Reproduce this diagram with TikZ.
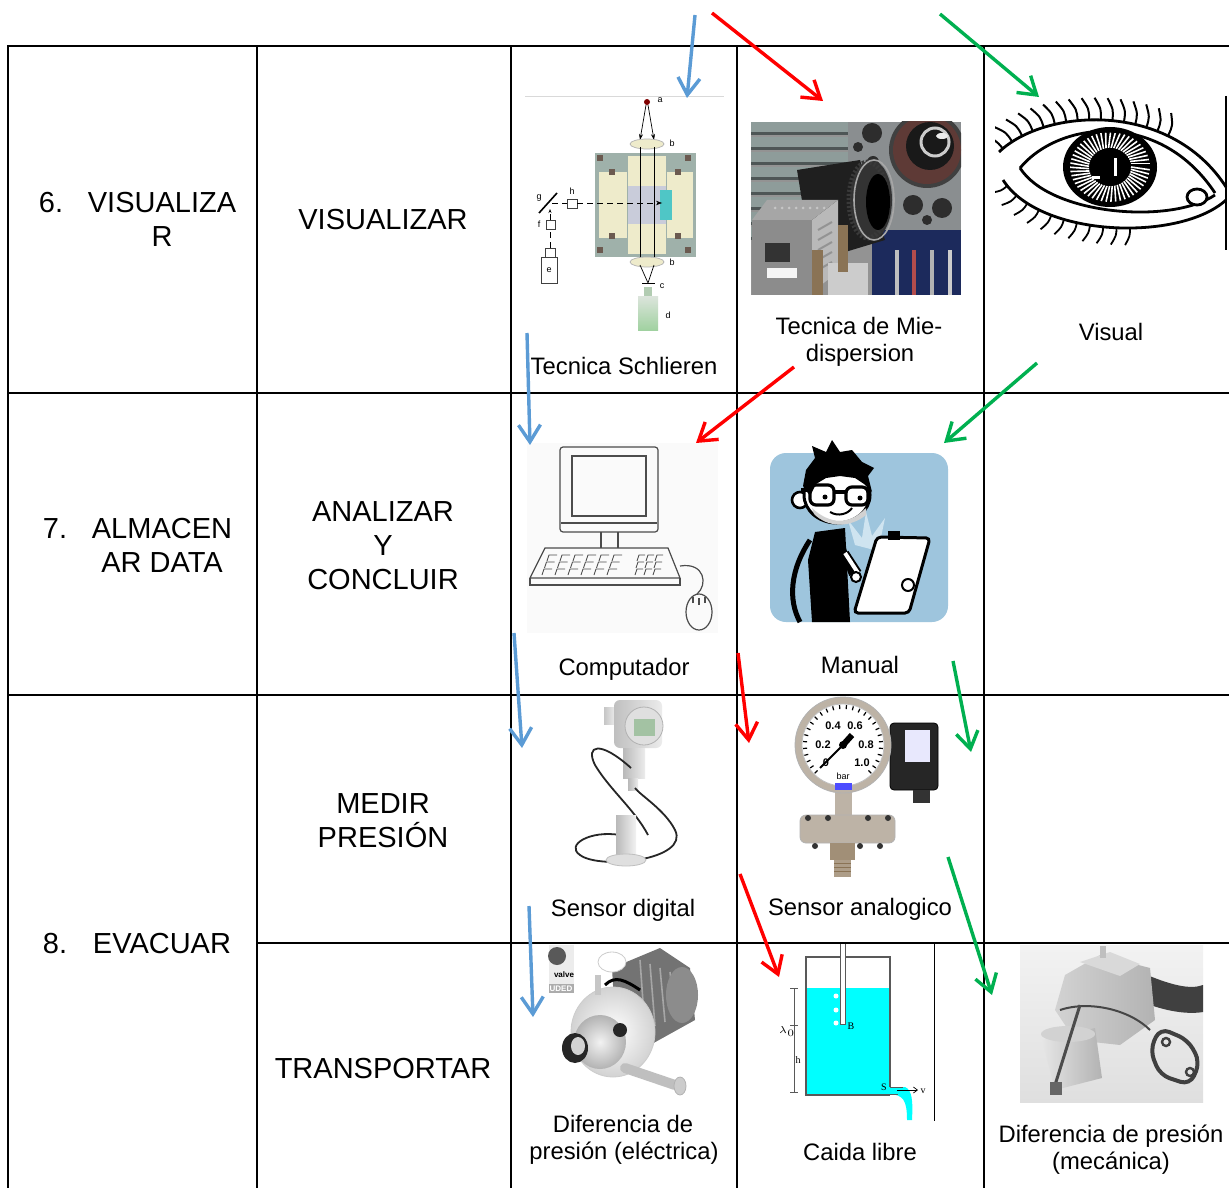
\documentclass[tikz,border=0pt]{standalone}
\usepackage{fontspec}
\setmainfont{Liberation Sans}
\newfontfamily\serifF{Liberation Serif}
\usetikzlibrary{arrows.meta,decorations.markings}
\definecolor{aBlue}{HTML}{5B9BD5}
\definecolor{aRed}{HTML}{FF0000}
\definecolor{aGreen}{HTML}{00B050}
\definecolor{sGray}{HTML}{9FB1AA}
\definecolor{sCream}{HTML}{EEEBCB}
\definecolor{sLav}{HTML}{C9CCDA}
\definecolor{sCyan}{HTML}{4FC6C6}
\definecolor{sBrown}{HTML}{6B5A50}
\definecolor{mBlue}{HTML}{9EC5DD}
\definecolor{mLight}{HTML}{CFE4F0}
\definecolor{water}{HTML}{00FFFF}
\definecolor{brass}{HTML}{8A7355}
\definecolor{navy}{HTML}{1C2A5C}
\definecolor{ringc}{HTML}{5E3A36}
\definecolor{plate}{HTML}{8A8E90}
\definecolor{steel}{HTML}{BDB3A6}
\definecolor{ribL}{HTML}{8E9C9A}
\definecolor{ribD}{HTML}{4E5656}
\begin{document}
\begin{tikzpicture}[x=0.5pt,y=-0.5pt,
  grid/.style={line width=1pt,black,line cap=rect},
  lbl/.style={font=\fontsize{14.5}{17}\selectfont,anchor=base,inner sep=0pt},
  capt/.style={font=\fontsize{11.9}{14}\selectfont,anchor=base,inner sep=0pt},
  arr/.style={line width=1.7pt,-{Straight Barb[length=8.5pt,width=11pt]}},
  tiny/.style={font=\fontsize{4.5}{5}\selectfont,inner sep=0pt},
  gtxt/.style={font=\fontsize{5.5}{6}\selectfont\bfseries,inner sep=0pt},
  thinl/.style={line width=0.35pt},
]
\useasboundingbox (0,0) rectangle (1229,1187);
\fill[white] (0,0) rectangle (1229,1187);

% ---------- Schlieren ----------
\draw[gray!30,line width=0.5pt] (525,97) -- (724,97);
\fill[red!50!black] (647,102) circle[radius=3];
\node[tiny] (sa) at (660,100) {a};
\draw[thinl,-{Stealth[length=3pt,width=2pt]}] (646,105) -- (640,140);
\draw[thinl,-{Stealth[length=3pt,width=2pt]}] (648,105) -- (654,140);
\filldraw[fill=sCream,draw=gray!60,thinl] (647,144) ellipse[x radius=17,y radius=5];
\node[tiny] (sb1) at (672,143) {b};
\fill[sGray] (595,153) rectangle (696,257);
\fill[sCream] (599,172) rectangle (627,238);
\fill[sCream] (667,172) rectangle (693,238);
\fill[sCream] (628,156) rectangle (666,186);
\fill[sCream] (628,224) rectangle (666,254);
\fill[sLav] (628,186) rectangle (666,224);
\fill[sCyan] (660,190) rectangle (672,220);
\foreach \px/\py in {600/158,688/158,600/250,688/250,612/172,678/172,612/236,678/236}
  \fill[sBrown] (\px-3,\py-3) rectangle (\px+3,\py+3);
\draw[thinl] (640,147) -- (640,259);
\draw[thinl] (654,147) -- (654,259);
\filldraw[fill=sCream,draw=gray!60,thinl] (647,262) ellipse[x radius=17,y radius=5];
\node[tiny] (sb2) at (672,262) {b};
\draw[thinl] (640,265) -- (648,283) (654,265) -- (648,283);
\draw[thinl] (642,283) -- (655,283);
\node[tiny] (sc) at (662,286) {c};
\fill[green!20!gray!50] (644,287) rectangle (652,297);
\shade[top color=green!15!gray!25,bottom color=green!35!gray!55] (638,297) rectangle (658,330);
\node[tiny] (sd) at (668,315) {d};
\draw[thinl,gray!50!black] (541,257) rectangle (557,283);
\node[tiny] (se) at (549,270) {e};
\draw[thinl,gray!50!black] (545,248) rectangle (555,257);
\draw[thinl,densely dashed] (550,248) -- (550,229);
\draw[thinl,gray!50!black] (546,220) rectangle (555,229);
\node[tiny] (sf) at (539,224) {f};
\draw[thinl,densely dashed,-{Stealth[length=2pt]}] (550,220) -- (550,209);
\draw[line width=0.8pt] (539,213) -- (557,193);
\node[tiny] (sg) at (539,198) {g};
\draw[thinl,gray!50!black] (567,199) rectangle (577,208);
\node[tiny] (sh) at (572,191) {h};
\draw[thinl,densely dashed] (552,203) -- (567,203);
\draw[thinl,densely dashed,-{Stealth[length=3pt]}] (577,203) -- (662,203);

% ---------- Mie photo ----------
\begin{scope}
\clip (751,122) rectangle (961,295);
\fill[gray!85] (751,122) rectangle (961,295);
\foreach \yy in {122,137,152,167,182,197,212,227}{
  \fill[ribL] (751,\yy) rectangle (860,\yy+10);
  \fill[ribD] (751,\yy+10) rectangle (860,\yy+13);}
\fill[plate] (848,122) rectangle (961,232);
\fill[gray!50!black] (927,150) circle[radius=38];
\fill[ringc] (927,150) circle[radius=34];
\fill[black!90] (930,146) circle[radius=24];
\draw[gray!40,line width=1.5pt] (935,142) circle[radius=14];
\fill[white!85!gray] (942,136) ellipse[x radius=6,y radius=3];
\foreach \bx/\by/\br in {872/133/10,858/147/5,873/162/6,913/205/10,942/208/10,927/220/5}
  \fill[gray!35!black] (\bx,\by) circle[radius=\br];
\fill[navy] (872,230) rectangle (961,295);
\foreach \bx/\bc in {895/gray!50,912/red!40!gray,930/gray!60,948/gray!40}
  \fill[\bc] (\bx,250) rectangle (\bx+4,295);
\fill[black!88] (797,170) -- (860,160) -- (885,240) -- (812,262) -- cycle;
\fill[black!80] (871,200) ellipse[x radius=21,y radius=40];
\draw[gray!45!black,line width=2.5pt,dash pattern=on 1pt off 1pt] (868,200) ellipse[x radius=19,y radius=38];
\draw[gray!70,line width=0.8pt] (874,200) ellipse[x radius=20,y radius=40];
\fill[black] (878,202) ellipse[x radius=12,y radius=28];
\fill[gray!55] (812,220) -- (838,200) -- (838,272) -- (812,292) -- cycle;
\foreach \sy in {0,1,2,3,4} \draw[gray!85,line width=1pt] (818,230+\sy*10) -- (832,222+\sy*10);
\fill[gray!70] (752,220) -- (767,200) -- (838,200) -- (812,220) -- cycle;
\foreach \sx in {0,...,7} \fill[gray!45] (775+\sx*7,208) circle[radius=1.5];
\fill[gray!90] (752,220) rectangle (812,295);
\fill[black!80] (765,243) rectangle (790,262);
\fill[white!92!gray] (767,268) rectangle (797,278);
\fill[gray!40] (828,263) rectangle (868,295);
\fill[brass] (812,250) rectangle (823,295);
\fill[brass] (838,225) rectangle (848,272);
\end{scope}

% ---------- Eye ----------
\begin{scope}
\clip (995,96) rectangle (1227,250);
\fill[white] (1020,168) .. controls (1060,120) and (1160,110) .. (1215,193) .. controls (1170,225) and (1050,215) .. (1020,168);
\fill (1110,167) ellipse[x radius=47,y radius=40];
\foreach \a in {0,7,...,353} \draw[white,line width=0.8pt] (1110,167) ++(\a:21 and 19) -- ++(\a+10:19 and 16);
\fill (1110,167) ellipse[x radius=18,y radius=19];
\fill[white] (1114,158) rectangle (1117,176);
\fill[white] (1092,176) rectangle (1100,179);
\begin{scope}[line width=1.4pt]
\draw (1020,168) .. controls (1060,120) and (1160,110) .. (1215,193);
\draw (999,152) .. controls (1045,108) and (1170,100) .. (1226,187);
\draw (1020,168) .. controls (1050,215) and (1170,225) .. (1215,195);
\draw (1003,180) .. controls (1040,238) and (1180,242) .. (1226,200);
\filldraw[fill=white] (1197,197) ellipse[x radius=10,y radius=8];
\end{scope}
\path[decoration={markings,mark=between positions 0.02 and 0.72 step 0.045 with {\draw[line width=1pt] (0,0) .. controls (0,-11) .. (-7,-22);}},decorate] (999,152) .. controls (1045,108) and (1170,100) .. (1226,187);
\path[decoration={markings,mark=between positions 0.03 and 0.6 step 0.055 with {\draw[line width=0.9pt] (0,0) .. controls (0,8) .. (-5,17);}},decorate] (1003,180) .. controls (1040,238) and (1180,242) .. (1226,200);
\end{scope}
\draw[line width=0.8pt] (1226,96) -- (1226,250);

% ---------- Computer ----------
\fill[green!3!gray!4] (527,443) rectangle (718,633);
\begin{scope}[draw=gray!60!black,line width=0.6pt]
\draw[rounded corners=1.5pt] (560,447) rectangle (658,532);
\draw (572,456) rectangle (646,516);
\draw (561,523) -- (657,523);
\draw (601,532) -- (601,548) (618,532) -- (618,548);
\draw (545,548) -- (668,548) -- (680,578) -- (530,578) -- cycle;
\draw (530,578) -- (530,585) -- (680,585) -- (680,578);
\foreach \r in {0,1,2}{
  \foreach \i in {0,...,5}
    \draw[line width=0.45pt] (547+\i*13-\r*2.5,561+\r*7) -- (549+\i*13-\r*2.5,555+\r*7) -- (557+\i*13-\r*2.5,555+\r*7);
  \foreach \i in {0,1,2}
    \draw[line width=0.45pt] (637+\i*9-\r*1,561+\r*7) -- (639+\i*9-\r*1,555+\r*7) -- (645+\i*9-\r*1,555+\r*7);
}
\draw (680,566) .. controls (705,562) and (708,585) .. (697,594);
\draw (699,612) ellipse[x radius=13,y radius=18];
\draw (693,603) -- (693,597) (699,598) -- (699,605) (705,603) -- (705,597);
\end{scope}

% ---------- Manual ----------
\fill[mBlue,rounded corners=8pt] (770,453) rectangle (948,622);
\fill[mLight] (855,545) -- (848,520) -- (862,538) -- (866,512) -- (872,536) -- (885,518) -- (880,542) -- (895,535) -- (882,552) -- cycle;
\fill[black] (815,532) -- (845,528) -- (850,622) -- (812,622) -- (808,560) -- cycle;
\draw[line width=2.5pt] (810,540) .. controls (790,570) and (788,600) .. (800,622);
\draw[line width=3pt] (840,540) -- (852,575);
\draw[line width=4pt] (845,553) -- (858,573);
\draw[white,line width=2pt] (845,553) -- (858,573);
\filldraw[fill=white,line width=1pt] (856,577) circle[radius=5];
\filldraw[fill=white,line width=1.5pt,rounded corners=2pt] (877,537) -- (930,538) -- (909,613) -- (854,613) -- cycle;
\fill (888,531) rectangle (900,540);
\filldraw[fill=white,line width=1pt] (908,585) circle[radius=6];
\filldraw[fill=white,line width=1.3pt] (800,500) circle[radius=8];
\filldraw[fill=white,line width=1.5pt] (837,495) ellipse[x radius=33,y radius=28];
\fill[gray!35] (812,508) .. controls (830,525) and (850,525) .. (866,508) -- (866,515) .. controls (850,528) and (828,528) .. (814,514) -- cycle;
\fill (803,486) -- (806,470) -- (815,458) -- (812,446) -- (826,452) -- (832,440) -- (840,452) -- (852,450) -- (862,462) -- (874,468) -- (868,476) -- (872,492) -- (864,484) -- (855,478) -- (840,476) -- (826,478) -- (816,484) -- (810,496) -- cycle;
\draw[line width=1.6pt,rounded corners=3pt] (810,485) rectangle (834,505) (846,487) rectangle (868,505);
\draw[line width=1.6pt] (834,492) -- (846,492) (801,490) -- (810,490);
\fill (825,497) circle[radius=2.5] (860,498) circle[radius=2.5];
\draw[line width=1pt] (830,512) .. controls (838,517) and (848,514) .. (852,508);

% ---------- Sensor digital ----------
\shade[left color=gray!45,right color=gray!10] (604,707) rectangle (617,724);
\shade[left color=gray!50,right color=gray!15,rounded corners=3pt] (614,700) rectangle (662,748);
\filldraw[fill=gray!25,draw=gray!60] (644,726) circle[radius=19];
\fill[green!20!gray!60] (634,719) rectangle (655,736);
\shade[left color=gray!55,right color=gray!15] (623,748) rectangle (645,778);
\shade[left color=gray!55,right color=gray!15] (628,778) rectangle (638,790);
\draw[black!85,line width=0.9pt] (631,768) .. controls (600,740) and (585,745) .. (595,765) .. controls (610,790) and (635,810) .. (648,835);
\draw[black!85,line width=0.9pt] (620,835) .. controls (590,830) and (565,845) .. (580,855) .. controls (600,870) and (690,860) .. (675,830) .. controls (665,810) and (640,795) .. (635,788);
\shade[left color=gray!55,right color=gray!10] (616,815) rectangle (636,858);
\filldraw[fill=gray!25,draw=gray!50] (626,860) ellipse[x radius=20,y radius=6];

% ---------- Sensor analogico ----------
\fill[steel] (835,790) rectangle (852,816);
\filldraw[fill=steel,draw=gray!60,rounded corners=3pt] (800,815) rectangle (895,843);
\foreach \bx in {808,828,868,888} \fill[gray!40!black] (\bx,818) circle[radius=3];
\foreach \bx in {815,835,860,880} \fill[gray!40!black] (\bx,846) circle[radius=3];
\fill[brass!80!white] (830,843) rectangle (855,860);
\fill[brass!70!white] (834,860) rectangle (851,877);
\foreach \yy in {863,867,871} \draw[brass,thinl] (834,\yy) -- (851,\yy);
\filldraw[fill=black!85,rounded corners=2pt] (890,723) rectangle (938,790);
\fill[gray!15!blue!10] (905,730) rectangle (930,762);
\fill[black!80] (913,790) rectangle (930,803);
\filldraw[fill=steel,draw=gray!60] (843,745) circle[radius=48];
\filldraw[fill=white,draw=gray!50] (843,745) circle[radius=41];
\foreach \a in {135,145,...,405} \draw[line width=0.6pt] (843,745) ++(\a:36) -- ++(\a:4);
\node[gtxt] (g0) at (826,763) {0};
\node[gtxt] (g2) at (823,745) {0.2};
\node[gtxt] (g4) at (833,726) {0.4};
\node[gtxt] (g6) at (855,726) {0.6};
\node[gtxt] (g8) at (866,745) {0.8};
\node[gtxt] (g10) at (862,763) {1.0};
\node[tiny] (gbar) at (843,776) {bar};
\fill[blue!70] (835,783) rectangle (852,790);
\draw[line width=1pt] (843,745) -- (820,768);
\draw[line width=3pt] (843,745) -- (852,735);
\fill (843,745) circle[radius=4];

% ---------- Pump electric ----------
\fill[gray!15] (549,945) rectangle (574,984);
\fill[gray!65] (549,984) rectangle (574,993);
\fill[gray!70!black] (557,956) circle[radius=9];
\node[font=\fontsize{4}{4}\selectfont\bfseries,inner sep=0pt] (lv) at (564,975) {valve};
\node[font=\fontsize{4}{4}\selectfont\bfseries,white,inner sep=0pt] (lu) at (561,989) {UDED};
\fill[black!55] (612,968) -- (660,948) -- (690,968) -- (695,1020) -- (650,1045) -- (615,1020) -- cycle;
\foreach \k in {0,1,2,3} \draw[black!35,line width=0.8pt] (640+\k*10,960+\k*4) -- (645+\k*10,1030-\k*4);
\fill[black!45] (682,995) ellipse[x radius=16,y radius=28];
\filldraw[fill=white,draw=gray!40] (612,962) ellipse[x radius=14,y radius=10];
\draw[line width=1.5pt] (605,985) .. controls (615,975) and (625,980) .. (640,990);
\shade[inner color=white,outer color=gray!35] (613,1032) ellipse[x radius=42,y radius=45];
\draw[gray!40] (613,1032) ellipse[x radius=42,y radius=45];
\shade[inner color=gray!10,outer color=gray!60] (600,1042) ellipse[x radius=26,y radius=27];
\draw[gray!45,line width=3pt] (598,995) -- (598,975);
\fill[black!85] (575,1048) ellipse[x radius=13,y radius=15];
\fill[gray!35] (578,1046) ellipse[x radius=7,y radius=9];
\fill[black!85] (620,1030) circle[radius=7];
\draw[gray!50,line width=5pt,line cap=round] (625,1068) -- (675,1085);
\filldraw[fill=gray!40,draw=gray!60] (680,1086) ellipse[x radius=6,y radius=9];

% ---------- Caida libre ----------
\fill[water] (806,988) rectangle (890,1095);
\draw[gray!70!black,line width=0.6pt] (890,1087) -- (890,957) -- (806,957) -- (806,1095) -- (890,1095);
\fill[white] (840,943) rectangle (845,1024);
\draw[gray!70!black,thinl] (840,943) -- (840,1024) -- (845,1024) -- (845,943);
\foreach \bb in {996,1010,1023} \fill[white] (836,\bb) circle[radius=2.5];
\node[font=\serifF\fontsize{5}{5}\selectfont,inner sep=0pt] (lB) at (851,1026) {B};
\draw[gray!70!black,thinl] (794,988) -- (794,1092) (790,988) -- (798,988) (790,1025) -- (798,1025) (790,1092) -- (798,1092);
\node[font=\fontsize{5}{5}\selectfont,inner sep=0pt] (lh0) at (787,1032) {$\lambda_0$};
\node[font=\serifF\fontsize{5}{5}\selectfont,inner sep=0pt] (lh) at (798,1060) {h};
\fill[water] (890,1087) -- (905,1087) .. controls (912,1090) and (913,1100) .. (912,1120) -- (907,1120) .. controls (907,1100) and (903,1095) .. (890,1094) -- cycle;
\draw[gray!70!black,thinl] (890,1087) -- (903,1087) (890,1094) -- (898,1094);
\draw[thinl,-{Straight Barb[length=2pt,width=3pt]}] (897,1090) -- (918,1090);
\node[font=\serifF\fontsize{5}{5}\selectfont,inner sep=0pt] (lv2) at (923,1091) {v};
\node[font=\serifF\fontsize{5}{5}\selectfont,inner sep=0pt] (lS) at (884,1087) {S};
\draw[line width=0.5pt] (934,943) -- (934,1121);

% ---------- Fuel pump ----------
\shade[top color=gray!10,bottom color=gray!25] (1020,945) rectangle (1203,1102);
\fill[black!75] (1140,972) .. controls (1170,985) and (1190,990) .. (1203,985) -- (1203,1012) .. controls (1185,1015) and (1160,1010) .. (1138,1000) -- cycle;
\shade[left color=gray!35,right color=gray!60] (1065,975) -- (1100,955) -- (1150,968) -- (1155,1020) -- (1120,1045) -- (1075,1040) -- (1055,1010) -- cycle;
\fill[gray!30] (1080,962) -- (1110,952) -- (1140,964) -- (1120,976) -- cycle;
\draw[gray!55!black,line width=1pt] (1060,1010) .. controls (1090,1000) and (1130,1010) .. (1150,1030);
\fill[gray!50] (1100,946) rectangle (1106,958);
\shade[left color=gray!20,right color=gray!60] (1042,1040) -- (1095,1028) -- (1102,1078) -- (1055,1090) -- cycle;
\fill[gray!35] (1068,1034) ellipse[x radius=27,y radius=8];
\draw[black!70,line width=1.5pt] (1055,1085) -- (1080,1005);
\fill[black!60] (1050,1082) rectangle (1062,1095);
\draw[gray!50!black,line width=2pt,rounded corners=5pt] (1160,1028) -- (1188,1040) -- (1200,1062) -- (1190,1085) -- (1160,1075) -- (1150,1050) -- cycle;
\draw[gray!50!black,line width=1.2pt] (1166,1042) circle[radius=4] (1190,1072) circle[radius=4];

% ---------- Table ----------
\draw[grid] (8,46) -- (1229,46);
\draw[grid] (8,393) -- (1229,393);
\draw[grid] (8,695) -- (1229,695);
\draw[grid] (257,943) -- (1229,943);
\foreach \xx in {8,257,511,737,984} \draw[grid] (\xx,46) -- (\xx,1187);

% ---------- Labels ----------
\node[lbl] (n6) at (51,213) {6.};
\node[lbl] (t6a) at (162,213) {VISUALIZA};
\node[lbl] (t6b) at (162,247) {R};
\node[lbl] (v1) at (383,230) {VISUALIZAR};
\node[lbl] (n7) at (55,538) {7.};
\node[lbl] (t7a) at (162,538) {ALMACEN};
\node[lbl] (t7b) at (162,572) {AR DATA};
\node[lbl] (a1) at (383,521) {ANALIZAR};
\node[lbl] (a2) at (383,555) {Y};
\node[lbl] (a3) at (383,589) {CONCLUIR};
\node[lbl] (n8) at (55,953) {8.};
\node[lbl] (t8) at (162,953) {EVACUAR};
\node[lbl] (m1) at (383,813) {MEDIR};
\node[lbl] (m2) at (383,847) {PRESIÓN};
\node[lbl] (tr) at (383,1078) {TRANSPORTAR};

\node[capt] (c1) at (624,374) {Tecnica Schlieren};
\node[capt] (c2a) at (859,334) {Tecnica de Mie-};
\node[capt] (c2b) at (860,361) {dispersion};
\node[capt] (c3) at (1111,340) {Visual};
\node[capt] (c4) at (624,675) {Computador};
\node[capt] (c5) at (860,673) {Manual};
\node[capt] (c6) at (623,916) {Sensor digital};
\node[capt] (c7) at (860,915) {Sensor analogico};
\node[capt] (c8a) at (623,1132) {Diferencia de};
\node[capt] (c8b) at (624,1159) {presión (eléctrica)};
\node[capt] (c9) at (860,1160) {Caida libre};
\node[capt] (c10a) at (1111,1142) {Diferencia de presión};
\node[capt] (c10b) at (1111,1169) {(mecánica)};

% ---------- Arrows ----------
\coordinate (b1s) at (695,15);  \coordinate (b1e) at (687,98);
\coordinate (b2s) at (527,333); \coordinate (b2e) at (530,445);
\coordinate (b3s) at (514,633); \coordinate (b3e) at (522,748);
\coordinate (b4s) at (529,906); \coordinate (b4e) at (533,1017);
\coordinate (r1s) at (712,13);  \coordinate (r1e) at (823,101);
\coordinate (r2s) at (794,367); \coordinate (r2e) at (696,443);
\coordinate (r3s) at (738,653); \coordinate (r3e) at (749,743);
\coordinate (r4s) at (740,874); \coordinate (r4e) at (779,977);
\coordinate (g1s) at (940,14);  \coordinate (g1e) at (1039,97);
\coordinate (g2s) at (1037,363); \coordinate (g2e) at (944,443);
\coordinate (g3s) at (953,661); \coordinate (g3e) at (971,752);
\coordinate (g4s) at (948,857); \coordinate (g4e) at (992,995);
\draw[arr,aBlue] (b1s) -- (b1e);
\draw[arr,aBlue] (b2s) -- (b2e);
\draw[arr,aBlue] (b3s) -- (b3e);
\draw[arr,aBlue] (b4s) -- (b4e);
\draw[arr,aRed] (r1s) -- (r1e);
\draw[arr,aRed] (r2s) -- (r2e);
\draw[arr,aRed] (r3s) -- (r3e);
\draw[arr,aRed] (r4s) -- (r4e);
\draw[arr,aGreen] (g1s) -- (g1e);
\draw[arr,aGreen] (g2s) -- (g2e);
\draw[arr,aGreen] (g3s) -- (g3e);
\draw[arr,aGreen] (g4s) -- (g4e);
\end{tikzpicture}
\end{document}
